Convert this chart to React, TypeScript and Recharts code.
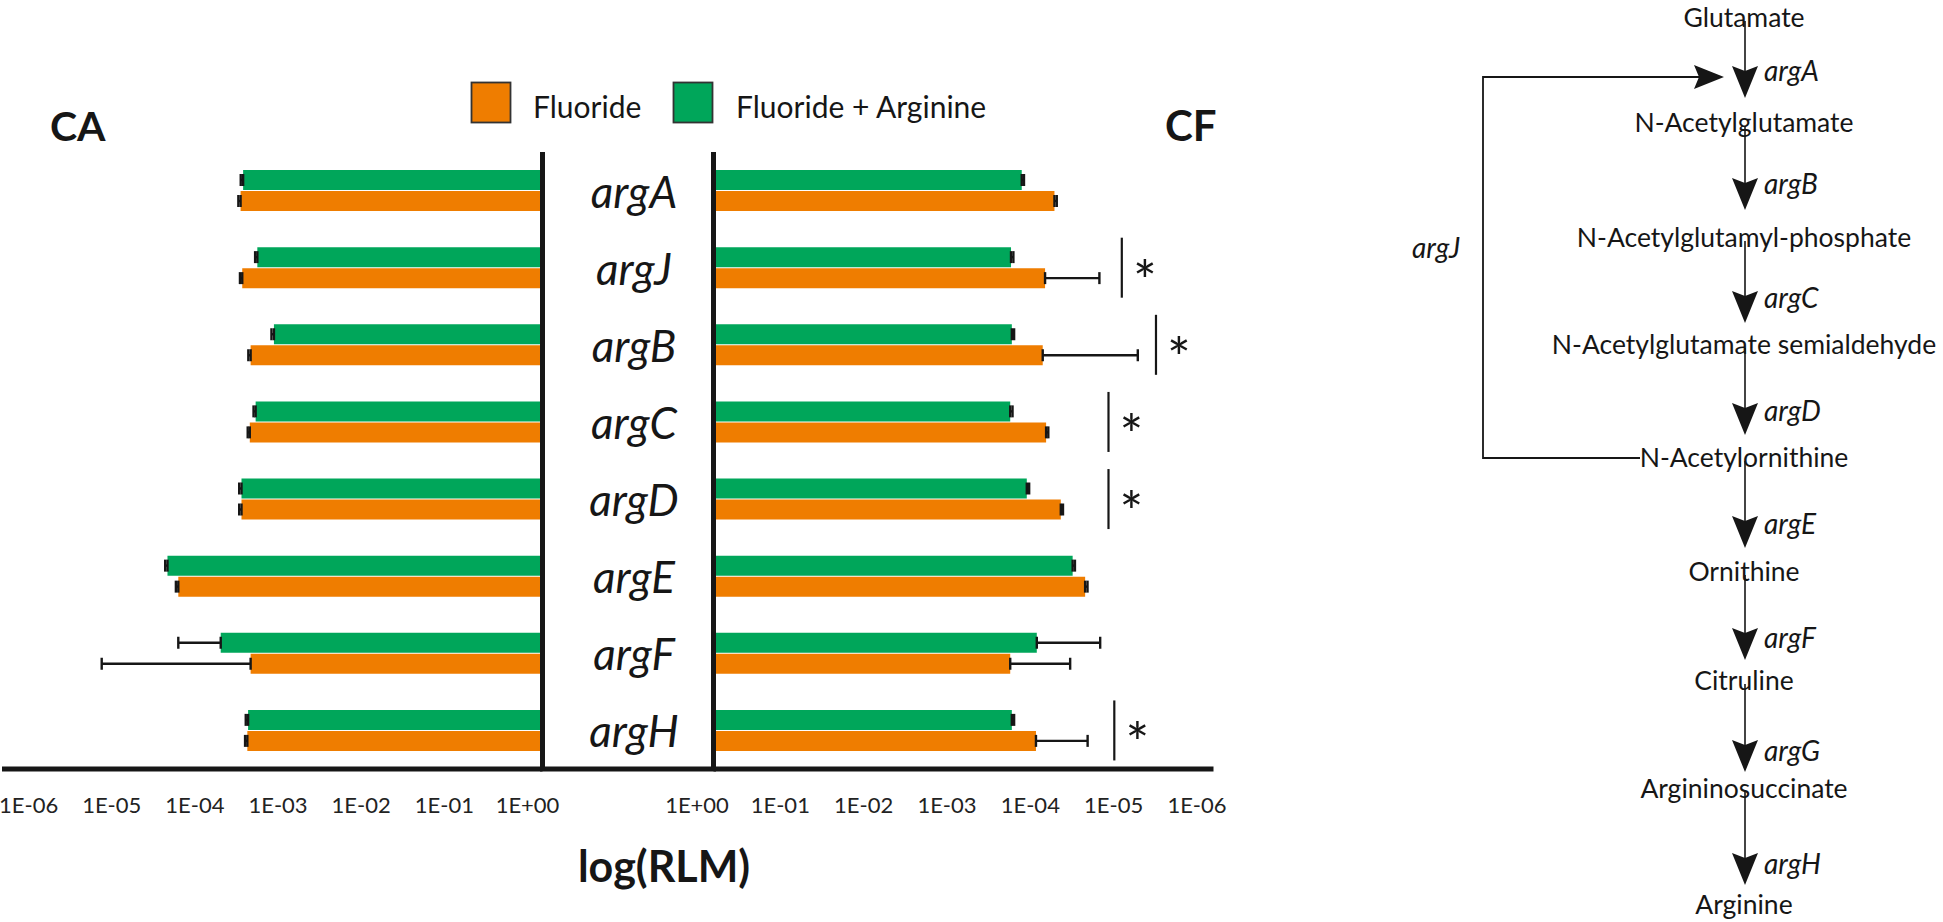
import React from 'react';
import { BarChart, Bar, XAxis, YAxis, ErrorBar, ReferenceDot } from 'recharts';

// ---------------- data ----------------
const genes = ['argA', 'argJ', 'argB', 'argC', 'argD', 'argE', 'argF', 'argH'];

// CA panel, relative level (RLM) and lower end of the error bar
const caFluoride = [2.34e-4, 2.45e-4, 3.09e-4, 3.02e-4, 2.4e-4, 4.17e-5, 3.09e-4, 2.82e-4];
const caFluorideLow = [2.2e-4, 2.3e-4, 2.9e-4, 2.85e-4, 2.25e-4, 3.9e-5, 5.0e-6, 2.65e-4];
const caFluorideArg = [2.51e-4, 3.72e-4, 5.89e-4, 3.55e-4, 2.4e-4, 3.09e-5, 1.35e-4, 2.88e-4];
const caFluorideArgLow = [2.35e-4, 3.5e-4, 5.5e-4, 3.35e-4, 2.25e-4, 2.9e-5, 4.17e-5, 2.7e-4];

// CF panel
const cfFluoride = [8.1e-5, 1.05e-4, 1.12e-4, 1.02e-4, 6.8e-5, 3.47e-5, 2.75e-4, 1.35e-4];
const cfFluorideLow = [7.6e-5, 2.34e-5, 8.1e-6, 9.6e-5, 6.4e-5, 3.25e-5, 5.25e-5, 3.24e-5];
const cfFluorideArg = [2.0e-4, 2.69e-4, 2.63e-4, 2.75e-4, 1.74e-4, 4.9e-5, 1.32e-4, 2.63e-4];
const cfFluorideArgLow = [1.88e-4, 2.52e-4, 2.47e-4, 2.58e-4, 1.63e-4, 4.6e-5, 2.29e-5, 2.47e-4];

// significance markers in CF panel
const cfSignificantGenes = ['argJ', 'argB', 'argC', 'argD', 'argH'];
const cfSignificantAt = [1.26e-5, 4.9e-6, 1.82e-5, 1.82e-5, 1.55e-5];

const tickExponents = [-6, -5, -4, -3, -2, -1, 0];
const tickLabels = ['1E-06', '1E-05', '1E-04', '1E-03', '1E-02', '1E-01', '1E+00'];

const seriesNames = ['Fluoride', 'Fluoride + Arginine'];

// pathway
const metabolites = [
  'Glutamate',
  'N-Acetylglutamate',
  'N-Acetylglutamyl-phosphate',
  'N-Acetylglutamate semialdehyde',
  'N-Acetylornithine',
  'Ornithine',
  'Citruline',
  'Argininosuccinate',
  'Arginine',
];
const pathwayEnzymes = ['argA', 'argB', 'argC', 'argD', 'argE', 'argF', 'argG', 'argH'];
const recycleEnzyme = 'argJ';

// ---------------- styling / layout ----------------
const ORANGE = '#EF7D00';
const GREEN = '#00A65A';
const INK = '#161616';
const FONT = 'Lato, "Open Sans", sans-serif';

const metaboliteBaselines = [27, 132, 247, 354, 467, 581, 690, 798, 914];
const arrowTips = [98, 210, 323, 435, 548, 660, 772, 885];
const enzymeBaselines = [81, 194, 308, 421, 534, 648, 761, 874];
const PATH_X = 1745;

// ---------------- derived tables ----------------
const lg = (v: number) => Math.log10(v);
const caRows = genes.map((g, i) => ({
  gene: g,
  f: lg(caFluoride[i]),
  fErr: [lg(caFluoride[i]) - lg(caFluorideLow[i]), 0],
  fa: lg(caFluorideArg[i]),
  faErr: [lg(caFluorideArg[i]) - lg(caFluorideArgLow[i]), 0],
}));
const cfRows = genes.map((g, i) => ({
  gene: g,
  f: lg(cfFluoride[i]),
  fErr: [lg(cfFluoride[i]) - lg(cfFluorideLow[i]), 0],
  fa: lg(cfFluorideArg[i]),
  faErr: [lg(cfFluorideArg[i]) - lg(cfFluorideArgLow[i]), 0],
}));
const fmtTick = (v: number) => tickLabels[tickExponents.indexOf(v)] ?? '';

const XTick = (props: any) => {
  const { x, y, payload, shift } = props;
  return (
    <text x={x + shift} y={y} dy={44} textAnchor="middle" fontFamily={FONT} fontSize={22} fill="#222">
      {fmtTick(payload.value)}
    </text>
  );
};

const GeneTick = (props: any) => {
  const { x, y, payload } = props;
  return (
    <text x={x - 79.5} y={y} dy={17} textAnchor="middle" fontFamily={FONT} fontStyle="italic" fontSize={44} fill={INK}>
      {payload.value}
    </text>
  );
};

const SigMark = (props: any) => {
  const { cx, cy } = props;
  if (cx == null || cy == null) return null;
  return (
    <g>
      <line x1={cx} x2={cx} y1={cy - 30} y2={cy + 30} stroke={INK} strokeWidth={2.2} />
      <text x={cx + 23} y={cy + 33} textAnchor="middle" fontFamily={FONT} fontSize={56} fill={INK}>
        *
      </text>
    </g>
  );
};

const axisLine = { stroke: INK, strokeWidth: 5 };
const errProps = { direction: 'x' as const, width: 6, strokeWidth: 2.4, stroke: INK };

const Arrow = ({ x, tip, dir }: { x: number; tip: number; dir: 'down' | 'right' }) => {
  if (dir === 'down') {
    const pts = `${x - 13},${tip - 32} ${x},${tip - 27} ${x + 13},${tip - 32} ${x},${tip}`;
    return <polygon points={pts} fill={INK} />;
  }
  const pts = `${tip - 30},${x - 12} ${tip - 25},${x} ${tip - 30},${x + 12} ${tip},${x}`;
  return <polygon points={pts} fill={INK} />;
};

const Pathway = () => (
  <g fontFamily={FONT} fill={INK}>
    {pathwayEnzymes.map((e, i) => (
      <g key={e}>
        <line x1={PATH_X} x2={PATH_X} y1={metaboliteBaselines[i] - 6} y2={arrowTips[i] - 20} stroke={INK} strokeWidth={1.6} />
        <Arrow x={PATH_X} tip={arrowTips[i]} dir="down" />
        <text x={PATH_X + 19} y={enzymeBaselines[i]} fontSize={28} fontStyle="italic">
          {e}
        </text>
      </g>
    ))}
    {metabolites.map((m, i) => (
      <text key={m} x={PATH_X - 1} y={metaboliteBaselines[i]} fontSize={26.5} textAnchor="middle">
        {m}
      </text>
    ))}
    {/* argJ recycling loop */}
    <polyline points={`1640,458 1483,458 1483,77 1706,77`} fill="none" stroke={INK} strokeWidth={1.8} />
    <Arrow x={77} tip={1724} dir="right" />
    <text x={1412} y={258} fontSize={28} fontStyle="italic">
      {recycleEnzyme}
    </text>
  </g>
);

export default function App() {
  return (
    <div style={{ position: 'absolute', left: 0, top: 0, width: 1943, height: 922, background: '#fff', overflow: 'hidden' }}>
      {/* CA panel */}
      <div style={{ position: 'absolute', left: 0, top: 0 }}>
        <BarChart
          width={560}
          height={922}
          data={caRows}
          layout="vertical"
          margin={{ top: 152, right: 16.5, bottom: 0, left: 2 }}
          barSize={20}
          barGap={1}
        >
          <XAxis
            type="number"
            domain={[-6.5, 0]}
            allowDataOverflow
            ticks={tickExponents}
            interval={0}
            height={153}
            axisLine={axisLine}
            tickLine={false}
            tickSize={0}
            tickMargin={0}
            tick={(p: any) => <XTick {...p} shift={-15} />}
          />
          <YAxis type="category" dataKey="gene" orientation="right" width={1} axisLine={axisLine} tickLine={false} tick={false} />
          <Bar dataKey="fa" name={seriesNames[1]} fill={GREEN} isAnimationActive={false}>
            <ErrorBar dataKey="faErr" {...errProps} />
          </Bar>
          <Bar dataKey="f" name={seriesNames[0]} fill={ORANGE} isAnimationActive={false}>
            <ErrorBar dataKey="fErr" {...errProps} />
          </Bar>
        </BarChart>
      </div>

      {/* CF panel */}
      <div style={{ position: 'absolute', left: 543, top: 0 }}>
        <BarChart
          width={700}
          height={922}
          data={cfRows}
          layout="vertical"
          margin={{ top: 152, right: 29.5, bottom: 0, left: 0 }}
          barSize={20}
          barGap={1}
        >
          <XAxis
            type="number"
            domain={[-6, 0]}
            reversed
            allowDataOverflow
            ticks={tickExponents}
            interval={0}
            height={153}
            axisLine={axisLine}
            tickLine={false}
            tickSize={0}
            tickMargin={0}
            tick={(p: any) => <XTick {...p} shift={-16.5} />}
          />
          <YAxis
            type="category"
            dataKey="gene"
            orientation="left"
            width={170.5}
            axisLine={axisLine}
            tickLine={false}
            tickSize={0}
            tickMargin={0}
            interval={0}
            tick={(p: any) => <GeneTick {...p} />}
          />
          <Bar dataKey="fa" name={seriesNames[1]} fill={GREEN} isAnimationActive={false}>
            <ErrorBar dataKey="faErr" {...errProps} />
          </Bar>
          <Bar dataKey="f" name={seriesNames[0]} fill={ORANGE} isAnimationActive={false}>
            <ErrorBar dataKey="fErr" {...errProps} />
          </Bar>
          {cfSignificantGenes.map((g, i) => (
            <ReferenceDot
              key={g}
              x={lg(cfSignificantAt[i])}
              y={g}
              r={0}
              ifOverflow="visible"
              shape={(p: any) => <SigMark {...p} />}
            />
          ))}
        </BarChart>
      </div>

      {/* overlay: titles, legend, joining axis segment, pathway */}
      <svg width={1943} height={922} style={{ position: 'absolute', left: 0, top: 0, pointerEvents: 'none' }}>
        <line x1={540} x2={716} y1={769} y2={769} stroke={INK} strokeWidth={5} />
        <text x={50} y={141} fontFamily={FONT} fontWeight={700} fontSize={41} fill={INK}>
          CA
        </text>
        <text x={1165} y={141} fontFamily={FONT} fontWeight={700} fontSize={42} fill={INK}>
          CF
        </text>
        <text x={664} y={882} textAnchor="middle" fontFamily={FONT} fontWeight={700} fontSize={43} fill={INK}>
          log(RLM)
        </text>
        <rect x={471.5} y={82.5} width={39} height={40} fill={ORANGE} stroke="#333" strokeWidth={1.8} />
        <text x={533} y={118} fontFamily={FONT} fontSize={30} fill={INK}>
          {seriesNames[0]}
        </text>
        <rect x={673.5} y={82.5} width={39} height={40} fill={GREEN} stroke="#333" strokeWidth={1.8} />
        <text x={736} y={118} fontFamily={FONT} fontSize={30} fill={INK}>
          {seriesNames[1]}
        </text>
        <Pathway />
      </svg>
    </div>
  );
}
